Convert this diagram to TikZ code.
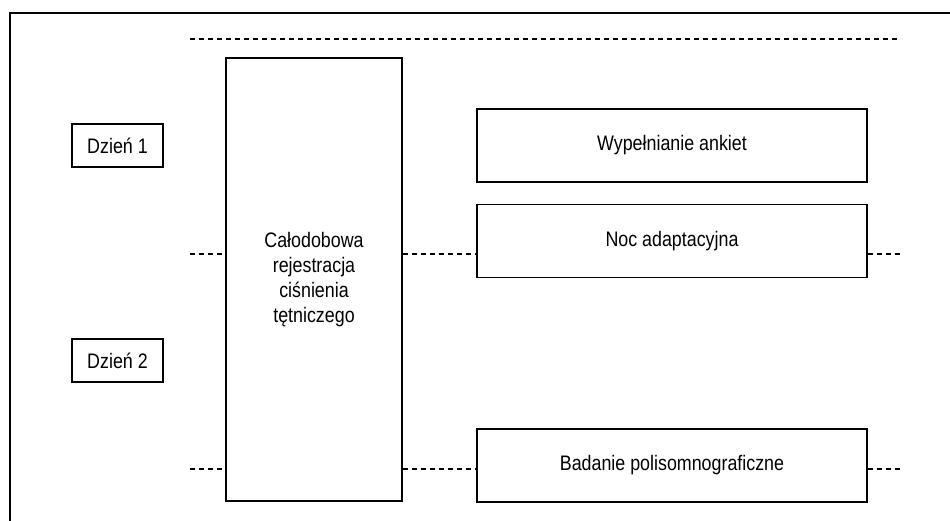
\documentclass[tikz,border=0pt]{standalone}
\usepackage{fontspec}
\newfontfamily\narrowfont[FakeStretch=0.85]{Liberation Sans}
\usetikzlibrary{positioning}

\begin{document}
\begin{tikzpicture}[
  x=1pt, y=-1pt,
  box/.style={draw, line width=1.2pt, align=center, inner sep=0pt, font=\narrowfont\fontsize{21}{25}\selectfont},
  dashline/.style={line width=1.1pt, dash pattern=on 5pt off 4pt}
]
\useasboundingbox (0,0) rectangle (950,521);
% open frame
\draw[line width=1.2pt] (10,521) -- (10,13) -- (950,13);

\node[box, minimum width=91pt, minimum height=43pt] (day1) at (117.5,145.5) {Dzień 1};
\node[box, minimum width=91pt, minimum height=43pt] (day2) at (117.5,360.5) {Dzień 2};
\node[box, minimum width=176pt, minimum height=443pt] (abpm) at (314,279.5) {Całodobowa\\rejestracja\\ciśnienia\\tętniczego};
\node[box, minimum width=390pt, minimum height=73pt] (ankiety) at (672,145.5) {Wypełnianie ankiet};
\node[box, minimum width=390pt, minimum height=73pt, below=21pt of ankiety] (noc) {Noc adaptacyjna};
\node[box, minimum width=390pt, minimum height=73pt] (psg) at (672,465.5) {Badanie polisomnograficzne};

\coordinate (top1) at (190,39);
\coordinate (top2) at (900,39);
\coordinate (left1) at (190,254);
\coordinate (right1) at (900,254);
\coordinate (left2) at (190,469);
\coordinate (right2) at (900,469);

\draw[dashline] (top1) -- (top2);
\draw[dashline] (left1) -- (left1 -| abpm.west);
\draw[dashline] (left1 -| abpm.east) -- (left1 -| noc.west);
\draw[dashline] (right1 -| noc.east) -- (right1);
\draw[dashline] (left2) -- (left2 -| abpm.west);
\draw[dashline] (left2 -| abpm.east) -- (left2 -| psg.west);
\draw[dashline] (right2 -| psg.east) -- (right2);
\end{tikzpicture}
\end{document}
